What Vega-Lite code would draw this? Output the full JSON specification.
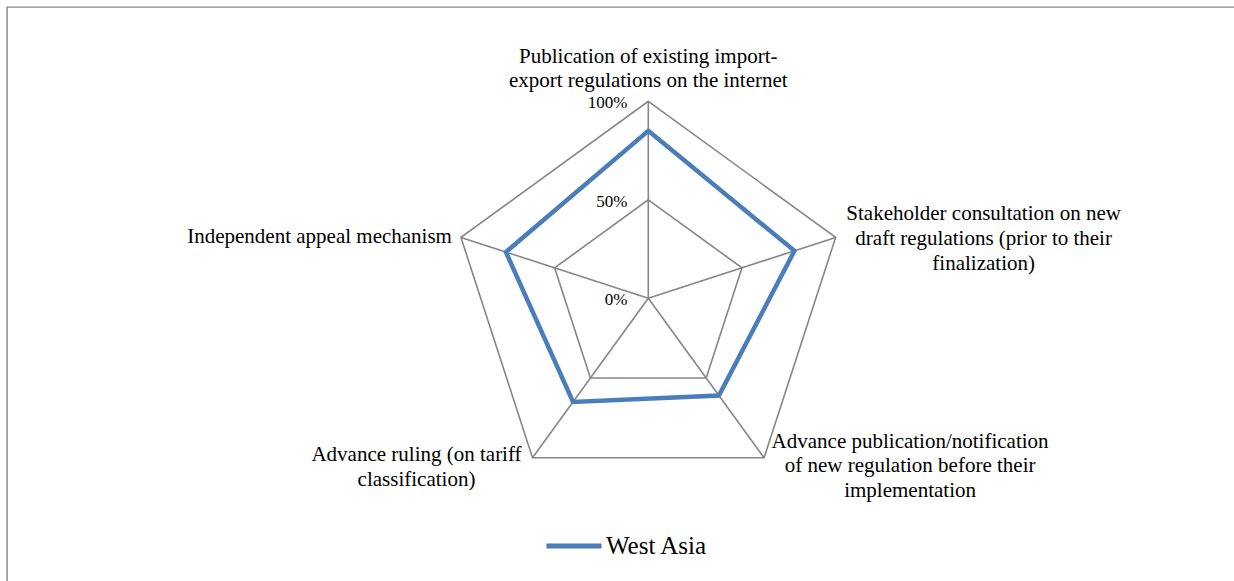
{
  "$schema": "https://vega.github.io/schema/vega-lite/v6.json",
  "width": 1231,
  "height": 578,
  "autosize": {"type": "none"},
  "padding": {"left": 7, "top": 7, "right": -4, "bottom": -4},
  "background": "white",
  "config": {
    "view": {"stroke": "#868686", "strokeWidth": 1.4},
    "font": "Liberation Serif",
    "text": {"color": "#000000", "lineBreak": "\n"}
  },
  "datasets": {
    "series": [
      {"axis": "Publication of existing import-\nexport regulations on the internet", "i": 0, "value": 0.85, "region": "West Asia"},
      {"axis": "Stakeholder consultation on new\ndraft regulations (prior to their\nfinalization)", "i": 1, "value": 0.78, "region": "West Asia"},
      {"axis": "Advance publication/notification\nof new regulation before their\nimplementation", "i": 2, "value": 0.61, "region": "West Asia"},
      {"axis": "Advance ruling (on tariff\nclassification)", "i": 3, "value": 0.65, "region": "West Asia"},
      {"axis": "Independent appeal mechanism", "i": 4, "value": 0.76, "region": "West Asia"}
    ],
    "rings": [
      {"i": 0, "level": 0.5}, {"i": 1, "level": 0.5}, {"i": 2, "level": 0.5}, {"i": 3, "level": 0.5}, {"i": 4, "level": 0.5},
      {"i": 0, "level": 1}, {"i": 1, "level": 1}, {"i": 2, "level": 1}, {"i": 3, "level": 1}, {"i": 4, "level": 1}
    ],
    "ticks": [{"i": 0, "level": 0}, {"i": 0, "level": 0.5}, {"i": 0, "level": 1}]
  },
  "encoding": {
    "x": {"field": "px", "type": "quantitative", "axis": null, "scale": {"domain": [-3.2553, 2.9934], "nice": false, "zero": false}},
    "y": {"field": "py", "type": "quantitative", "axis": null, "scale": {"domain": [-1.4553, 1.4787], "nice": false, "zero": false}}
  },
  "layer": [
    {
      "data": {"name": "rings"},
      "transform": [
        {"calculate": "datum.i * 2 * PI / 5", "as": "a"},
        {"calculate": "datum.level * sin(datum.a)", "as": "px"},
        {"calculate": "datum.level * cos(datum.a)", "as": "py"}
      ],
      "mark": {"type": "line", "interpolate": "linear-closed", "color": "#868686", "strokeWidth": 1.6},
      "encoding": {"detail": {"field": "level"}, "order": {"field": "i"}}
    },
    {
      "data": {"name": "rings"},
      "transform": [
        {"filter": "datum.level == 1"},
        {"calculate": "datum.i * 2 * PI / 5", "as": "a"},
        {"calculate": "datum.level * sin(datum.a)", "as": "px"},
        {"calculate": "datum.level * cos(datum.a)", "as": "py"}
      ],
      "mark": {"type": "rule", "color": "#868686", "strokeWidth": 1.6},
      "encoding": {"x2": {"datum": 0}, "y2": {"datum": 0}}
    },
    {
      "data": {"name": "series"},
      "transform": [
        {"calculate": "datum.i * 2 * PI / 5", "as": "a"},
        {"calculate": "datum.value * sin(datum.a)", "as": "px"},
        {"calculate": "datum.value * cos(datum.a)", "as": "py"}
      ],
      "mark": {"type": "line", "interpolate": "linear-closed", "strokeWidth": 4.5, "strokeJoin": "miter"},
      "encoding": {
        "order": {"field": "i"},
        "color": {
          "field": "region", "type": "nominal",
          "scale": {"range": ["#4a7ebb"]},
          "legend": {
            "title": null, "orient": "none", "legendX": 537, "legendY": 509,
            "symbolType": "stroke", "symbolSize": 3025, "symbolStrokeWidth": 5,
            "labelFont": "Liberation Serif", "labelFontSize": 25, "labelColor": "#000000",
            "labelOffset": 2, "padding": 0
          }
        }
      }
    },
    {
      "data": {"name": "ticks"},
      "transform": [
        {"calculate": "0", "as": "px"},
        {"calculate": "datum.level", "as": "py"}
      ],
      "mark": {"type": "text", "font": "Liberation Serif", "align": "right", "baseline": "alphabetic", "dx": -21, "dy": 7, "fontSize": 17},
      "encoding": {"text": {"field": "level", "type": "quantitative", "format": ".0%"}}
    },
    {
      "data": {"name": "series"},
      "transform": [
        {"filter": "datum.i == 0"},
        {"calculate": "datum.i * 2 * PI / 5", "as": "a"},
        {"calculate": "sin(datum.a)", "as": "px"},
        {"calculate": "cos(datum.a)", "as": "py"}
      ],
      "mark": {"type": "text", "font": "Liberation Serif", "align": "center", "baseline": "alphabetic", "dx": 0, "dy": -38, "fontSize": 21, "lineHeight": 24},
      "encoding": {"text": {"field": "axis"}}
    },
    {
      "data": {"name": "series"},
      "transform": [
        {"filter": "datum.i == 1"},
        {"calculate": "datum.i * 2 * PI / 5", "as": "a"},
        {"calculate": "sin(datum.a)", "as": "px"},
        {"calculate": "cos(datum.a)", "as": "py"}
      ],
      "mark": {"type": "text", "font": "Liberation Serif", "align": "center", "baseline": "alphabetic", "dx": 148, "dy": -17, "fontSize": 21, "lineHeight": 25},
      "encoding": {"text": {"field": "axis"}}
    },
    {
      "data": {"name": "series"},
      "transform": [
        {"filter": "datum.i == 2"},
        {"calculate": "datum.i * 2 * PI / 5", "as": "a"},
        {"calculate": "sin(datum.a)", "as": "px"},
        {"calculate": "cos(datum.a)", "as": "py"}
      ],
      "mark": {"type": "text", "font": "Liberation Serif", "align": "center", "baseline": "alphabetic", "dx": 146, "dy": -10, "fontSize": 21, "lineHeight": 24.5},
      "encoding": {"text": {"field": "axis"}}
    },
    {
      "data": {"name": "series"},
      "transform": [
        {"filter": "datum.i == 3"},
        {"calculate": "datum.i * 2 * PI / 5", "as": "a"},
        {"calculate": "sin(datum.a)", "as": "px"},
        {"calculate": "cos(datum.a)", "as": "py"}
      ],
      "mark": {"type": "text", "font": "Liberation Serif", "align": "center", "baseline": "alphabetic", "dx": -116, "dy": 3, "fontSize": 21, "lineHeight": 25},
      "encoding": {"text": {"field": "axis"}}
    },
    {
      "data": {"name": "series"},
      "transform": [
        {"filter": "datum.i == 4"},
        {"calculate": "datum.i * 2 * PI / 5", "as": "a"},
        {"calculate": "sin(datum.a)", "as": "px"},
        {"calculate": "cos(datum.a)", "as": "py"}
      ],
      "mark": {"type": "text", "font": "Liberation Serif", "align": "right", "baseline": "alphabetic", "dx": -9, "dy": 6, "fontSize": 21},
      "encoding": {"text": {"field": "axis"}}
    }
  ]
}
